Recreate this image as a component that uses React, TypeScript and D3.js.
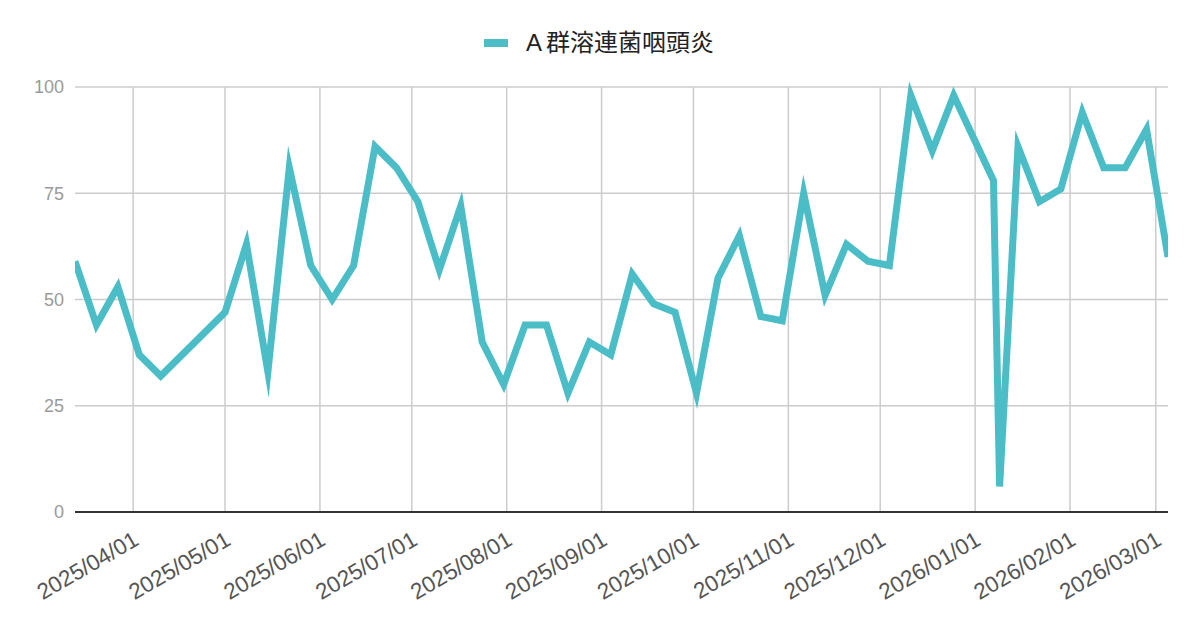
import { useEffect, useRef } from "react";
import * as d3 from "d3";

// weekly reports (a couple of weeks missing in April, extra point at new year)
const weekDates = [
  "2025-03-13", "2025-03-20", "2025-03-27", "2025-04-03", "2025-04-10",
  "2025-05-01", "2025-05-08", "2025-05-15", "2025-05-22", "2025-05-29",
  "2025-06-05", "2025-06-12", "2025-06-19", "2025-06-26", "2025-07-03",
  "2025-07-10", "2025-07-17", "2025-07-24", "2025-07-31", "2025-08-07",
  "2025-08-14", "2025-08-21", "2025-08-28", "2025-09-04", "2025-09-11",
  "2025-09-18", "2025-09-25", "2025-10-02", "2025-10-09", "2025-10-16",
  "2025-10-23", "2025-10-30", "2025-11-06", "2025-11-13", "2025-11-20",
  "2025-11-27", "2025-12-04", "2025-12-11", "2025-12-18", "2025-12-25",
  "2026-01-07", "2026-01-09", "2026-01-15", "2026-01-22", "2026-01-29",
  "2026-02-05", "2026-02-12", "2026-02-19", "2026-02-26", "2026-03-05",
];

const strepValues = [
  59, 44, 53, 37, 32,
  47, 63, 33, 81, 58,
  50, 58, 86, 81, 73,
  57, 72, 40, 30, 44,
  44, 28, 40, 37, 56,
  49, 47, 28, 55, 65,
  46, 45, 75, 51, 63,
  59, 58, 98, 85, 98,
  78, 6, 86, 73, 76,
  94, 81, 81, 90, 60,
];

const seriesPrefix = "A";
const seriesRest = "群溶連菌咽頭炎";
const yTicks = [0, 25, 50, 75, 100];
const xDomain = ["2025-03-13", "2026-03-05"];

export default function App() {
  const ref = useRef<SVGSVGElement | null>(null);

  useEffect(() => {
    if (!ref.current) return;

    const width = 1200;
    const height = 626;
    const margin = { top: 87, right: 32, bottom: 114, left: 75 };
    const color = "#4bbdc7";
    const font = "'Liberation Sans', Arial, 'Noto Sans CJK JP', sans-serif";

    const svg = d3.select(ref.current)
      .attr("width", width)
      .attr("height", height);

    svg.selectAll("*").remove();

    const parse = d3.utcParse("%Y-%m-%d");
    const data = weekDates.map((d, i) => ({ date: parse(d)!, value: strepValues[i] }));

    const x = d3.scaleUtc()
      .domain(xDomain.map(d => parse(d)!))
      .range([margin.left, width - margin.right]);

    const y = d3.scaleLinear()
      .domain([0, 100])
      .range([height - margin.bottom, margin.top]);

    // gridlines
    const monthTicks = x.ticks(d3.utcMonth.every(1)!);

    svg.append("g")
      .selectAll("line")
      .data(monthTicks)
      .join("line")
      .attr("x1", d => x(d))
      .attr("x2", d => x(d))
      .attr("y1", y(100))
      .attr("y2", y(0))
      .attr("stroke", "#cccccc")
      .attr("stroke-width", 1.5);

    svg.append("g")
      .selectAll("line")
      .data(yTicks.filter(t => t > 0))
      .join("line")
      .attr("x1", margin.left)
      .attr("x2", width - margin.right)
      .attr("y1", d => y(d))
      .attr("y2", d => y(d))
      .attr("stroke", "#cccccc")
      .attr("stroke-width", 1.5);

    // baseline
    svg.append("line")
      .attr("x1", margin.left)
      .attr("x2", width - margin.right)
      .attr("y1", y(0))
      .attr("y2", y(0))
      .attr("stroke", "#333333")
      .attr("stroke-width", 2);

    // y labels
    svg.append("g")
      .selectAll("text")
      .data(yTicks)
      .join("text")
      .attr("x", margin.left - 11)
      .attr("y", d => y(d))
      .attr("dy", "0.35em")
      .attr("text-anchor", "end")
      .attr("font-family", font)
      .attr("font-size", 18)
      .attr("fill", "#9a9a9a")
      .text(d => d);

    // x labels, slanted 30deg
    const fmt = d3.utcFormat("%Y/%m/%d");
    svg.append("g")
      .selectAll("text")
      .data(monthTicks)
      .join("text")
      .attr("transform", d => `translate(${x(d) + 7},${y(0) + 32}) rotate(-30)`)
      .attr("text-anchor", "end")
      .attr("font-family", font)
      .attr("font-size", 22.5)
      .attr("fill", "#555555")
      .text(d => fmt(d));

    // line, clipped left/right
    svg.append("clipPath")
      .attr("id", "plot-clip")
      .append("rect")
      .attr("x", margin.left)
      .attr("y", 0)
      .attr("width", width - margin.left - margin.right)
      .attr("height", height);

    const line = d3.line<{ date: Date; value: number }>()
      .x(d => x(d.date))
      .y(d => y(d.value));

    svg.append("path")
      .datum(data)
      .attr("clip-path", "url(#plot-clip)")
      .attr("d", line)
      .attr("fill", "none")
      .attr("stroke", color)
      .attr("stroke-width", 7)
      .attr("stroke-linejoin", "miter")
      .attr("stroke-miterlimit", 10);

    // legend
    const legend = svg.append("g");
    legend.append("line")
      .attr("x1", 484)
      .attr("x2", 508)
      .attr("y1", 43)
      .attr("y2", 43)
      .attr("stroke", color)
      .attr("stroke-width", 8);

    const label = legend.append("text")
      .attr("x", 526)
      .attr("y", 43)
      .attr("dy", "0.35em")
      .attr("font-family", font)
      .attr("font-size", 24)
      .attr("fill", "#222222");
    label.append("tspan").text(seriesPrefix);
    label.append("tspan").attr("dx", 4).text(seriesRest);
  }, []);

  return (
    <svg ref={ref} style={{ position: "absolute", left: 0, top: 0, background: "#fff" }}></svg>
  );
}
